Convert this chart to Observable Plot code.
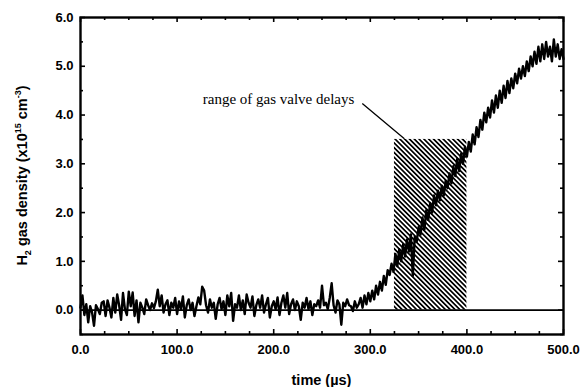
<!DOCTYPE html>
<html>
<head>
<meta charset="utf-8">
<script src="https://cdn.jsdelivr.net/npm/d3@7"></script>
<script src="https://cdn.jsdelivr.net/npm/@observablehq/plot@0.6"></script>
<style>
  body { margin: 0; background: #fff; }
  #chart svg { display: block; }
</style>
</head>
<body>
<div id="chart"></div>
<script>
// ---- data ----
const sampleStep = 2; // µs between samples, first sample at t = 0
const density = [
  // 0-18
  0.05, 0.30, -0.10, 0.12, -0.25, 0.08, -0.05, -0.32, 0.10, 0.02,
  // 20-38
  -0.08, 0.15, 0.18, -0.12, 0.20, 0.05, -0.15, 0.25, -0.05, 0.32,
  // 40-58
  0.10, -0.20, 0.35, 0.02, -0.10, 0.38, 0.08, 0.36, -0.12, 0.20,
  // 60-78
  -0.25, 0.15, 0.05, -0.08, 0.22, 0.10, 0.00, 0.14, 0.04, 0.18,
  // 80-98
  0.42, 0.08, 0.30, -0.05, 0.12, 0.20, -0.10, 0.15, 0.05, 0.25,
  // 100-118
  -0.08, 0.18, 0.02, 0.28, -0.15, 0.10, 0.22, 0.00, 0.15, -0.12,
  // 120-138
  0.08, 0.26, 0.12, 0.48, 0.40, 0.10, -0.05, 0.22, 0.05, 0.15,
  // 140-158
  -0.18, 0.12, 0.25, 0.02, 0.18, -0.10, 0.30, 0.08, 0.35, -0.22,
  // 160-178
  0.12, 0.05, 0.30, 0.00, 0.20, -0.08, 0.32, 0.15, 0.05, 0.28,
  // 180-198
  -0.12, 0.10, 0.22, 0.05, 0.30, -0.05, 0.12, 0.25, -0.15, 0.08,
  // 200-218
  0.18, 0.02, 0.26, -0.10, 0.15, 0.30, 0.05, 0.35, -0.08, 0.12,
  // 220-238
  0.22, 0.00, 0.18, 0.08, -0.20, 0.15, 0.05, 0.25, 0.02, 0.18,
  // 240-258
  -0.10, 0.12, 0.08, 0.20, 0.05, 0.50, 0.10, 0.15, 0.02, 0.25,
  // 260-278
  0.55, 0.10, -0.05, 0.20, 0.12, -0.30, 0.15, 0.08, 0.22, 0.10,
  // 280-298
  0.08, -0.02, 0.18, 0.05, 0.12, 0.25, 0.05, 0.30, 0.12, 0.35,
  // 300-318
  0.18, 0.40, 0.22, 0.50, 0.32, 0.58, 0.40, 0.70, 0.52, 0.82,
  // 320-338
  0.72, 0.95, 0.78, 1.15, 0.90, 1.25, 1.00, 1.35, 1.10, 1.45,
  // 340-358
  1.20, 1.55, 0.70, 1.50, 1.40, 1.70, 1.55, 1.90, 1.65, 2.05,
  // 360-378
  1.85, 2.20, 2.00, 2.35, 2.15, 2.45, 2.25, 2.55, 2.35, 2.65,
  // 380-398
  2.50, 2.80, 2.60, 2.95, 2.75, 3.10, 2.85, 3.20, 3.00, 3.35,
  // 400-418
  3.15, 3.45, 3.25, 3.60, 3.40, 3.75, 3.55, 3.90, 3.70, 4.05,
  // 420-438
  3.85, 4.15, 3.95, 4.30, 4.05, 4.40, 4.15, 4.50, 4.25, 4.60,
  // 440-458
  4.35, 4.70, 4.45, 4.75, 4.55, 4.85, 4.65, 4.95, 4.75, 5.00,
  // 460-478
  4.80, 5.10, 4.90, 5.20, 5.00, 5.30, 5.05, 5.40, 5.10, 5.45,
  // 480-498
  5.15, 5.50, 5.20, 5.40, 5.10, 5.55, 5.20, 5.45, 5.15, 5.35,
  // 500
  5.15
];

const xTicks = [0, 100, 200, 300, 400, 500];
const xMinorTicks = [25, 50, 75, 125, 150, 175, 225, 250, 275, 325, 350, 375, 425, 450, 475];
const yTicks = [0, 1, 2, 3, 4, 5, 6];
const yMinorTicks = [-0.5, 0.5, 1.5, 2.5, 3.5, 4.5, 5.5];
const xDomain = [0, 500];
const yDomain = [-0.5, 6];

const valveDelayStart = [325];
const valveDelayEnd = [400];
const valveDelayTop = [3.5];
const annotationText = ["range of gas valve delays"];
const annotationAt = [{t: 205, n: 4.33}];
const leaderLine = [{t: 292, n: 4.23}, {t: 335, n: 3.52}];

const xLabel = "time (µs)";

// ---- build ----
const W = 582, H = 387;
const mL = 80, mR = 19, mT = 17, mB = 53;
const frameW = W - mL - mR, frameH = H - mT - mB;
const major = 5, minor = 3;

const trace = density.map((v, i) => ({t: i * sampleStep, n: v}));
const hatchBox = valveDelayStart.map((s, i) => ({x1: s, x2: valveDelayEnd[i], y1: 0, y2: valveDelayTop[i]}));
const fmt = d => d.toFixed(1);

const hatchDefs = () => {
  const defs = d3.create("svg:defs");
  const p = defs.append("pattern")
    .attr("id", "hatch")
    .attr("patternUnits", "userSpaceOnUse")
    .attr("width", 3.4).attr("height", 3.4)
    .attr("patternTransform", "rotate(-45)");
  p.append("rect").attr("width", 3.4).attr("height", 3.4).attr("fill", "white");
  p.append("rect").attr("width", 1.7).attr("height", 3.4).attr("fill", "black");
  return defs.node();
};

const tickFont = {fontSize: 13, fontWeight: "bold", fontFamily: "Liberation Sans, Arial, sans-serif"};
const tk = {stroke: "black", strokeWidth: 1.6};

const chart = Plot.plot({
  width: W,
  height: H,
  marginLeft: mL,
  marginRight: mR,
  marginTop: mT,
  marginBottom: mB,
  style: {background: "white", color: "black", fontFamily: "Liberation Sans, Arial, sans-serif"},
  x: {domain: xDomain},
  y: {domain: yDomain},
  marks: [
    hatchDefs,
    Plot.rect(hatchBox, {x1: "x1", x2: "x2", y1: "y1", y2: "y2", fill: "url(#hatch)"}),
    Plot.ruleY([0], {stroke: "black", strokeWidth: 1.6}),
    Plot.line(trace, {x: "t", y: "n", stroke: "black", strokeWidth: 2.4, strokeLinejoin: "round"}),
    Plot.line(leaderLine, {x: "t", y: "n", stroke: "black", strokeWidth: 1.3}),
    Plot.text(annotationAt, {x: "t", y: "n", text: () => annotationText[0], fontFamily: "Liberation Serif, Times New Roman, serif", fontSize: 15, fill: "black"}),
    // inward ticks on all four sides
    Plot.ruleX(xTicks, {...tk, insetTop: frameH - major}),
    Plot.ruleX(xMinorTicks, {...tk, insetTop: frameH - minor}),
    Plot.ruleX(xTicks, {...tk, insetBottom: frameH - major}),
    Plot.ruleX(xMinorTicks, {...tk, insetBottom: frameH - minor}),
    Plot.ruleY(yTicks, {...tk, insetRight: frameW - major}),
    Plot.ruleY(yMinorTicks, {...tk, insetRight: frameW - minor}),
    Plot.ruleY(yTicks, {...tk, insetLeft: frameW - major}),
    Plot.ruleY(yMinorTicks, {...tk, insetLeft: frameW - minor}),
    // tick labels
    Plot.axisX(xTicks, {anchor: "bottom", tickSize: 0, tickPadding: 10, tickFormat: fmt, label: null, ...tickFont}),
    Plot.axisY(yTicks, {anchor: "left", tickSize: 0, tickPadding: 7, tickFormat: fmt, label: null, ...tickFont}),
    Plot.frame({stroke: "black", strokeWidth: 2.4})
  ]
});

document.getElementById("chart").appendChild(chart);

// axis titles
const svg = d3.select(chart);
const xs = chart.scale("x").range;
const ys = chart.scale("y").range;
svg.append("text")
  .attr("x", (xs[0] + xs[1]) / 2)
  .attr("y", 385)
  .attr("text-anchor", "middle")
  .attr("font-family", "Liberation Sans, Arial, sans-serif")
  .attr("font-size", 14.5)
  .attr("font-weight", "bold")
  .attr("fill", "black")
  .text(xLabel);

const yl = svg.append("text")
  .attr("transform", `translate(27,${(ys[0] + ys[1]) / 2}) rotate(-90)`)
  .attr("text-anchor", "middle")
  .attr("font-family", "Liberation Sans, Arial, sans-serif")
  .attr("font-size", 14.5)
  .attr("font-weight", "bold")
  .attr("fill", "black");
yl.append("tspan").text("H");
yl.append("tspan").attr("font-size", 9).attr("dy", 4).text("2");
yl.append("tspan").attr("dy", -4).text(" gas density (x10");
yl.append("tspan").attr("font-size", 9).attr("dy", -6).text("15");
yl.append("tspan").attr("dy", 6).text(" cm");
yl.append("tspan").attr("font-size", 9).attr("dy", -6).text("-3");
yl.append("tspan").attr("dy", 6).text(")");
</script>
</body>
</html>
